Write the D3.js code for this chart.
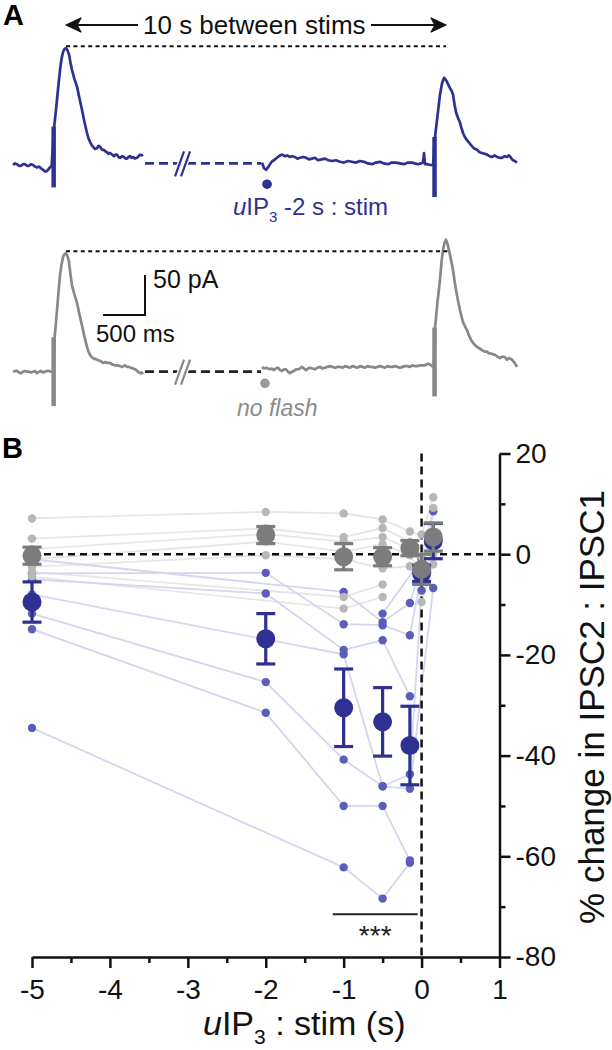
<!DOCTYPE html>
<html><head><meta charset="utf-8">
<script src="https://cdn.jsdelivr.net/npm/d3@7"></script>
<style>
html,body{margin:0;padding:0;background:#fff;}
svg{display:block;font-family:"Liberation Sans",Arial,Helvetica,sans-serif;}
</style></head><body>
<svg id="chart" width="612" height="1050"></svg>
<script>
// ================= DATA =================
// Panel A: example sweeps, [time (ms) within segment, current (pA) relative to baseline]
const blueSweep1 = [[0,0],[24,2],[48,1],[71,-1],[95,-1],[119,1],[143,1],[167,-1],[190,-1],[214,1],[238,0],[262,-2],[286,-3],[310,-2],[333,-4],[357,-6],[381,-8],[400,-8],[417,-6],[440,-3],[460,-1],[490,48],[512,69],[536,95],[560,119],[578,133],[595,141],[612,145],[631,146],[650,143],[667,138],[684,128],[702,119],[730,108],[762,98],[790,84],[821,69],[850,54],[881,40],[900,33],[917,29],[935,25],[952,23],[976,20],[1000,21],[1018,24],[1036,23],[1060,19],[1083,19],[1100,17],[1119,16],[1137,14],[1155,15],[1180,13],[1202,11],[1220,13],[1238,13],[1256,10],[1274,9],[1300,11],[1321,10],[1340,8],[1357,8],[1375,10],[1393,11],[1410,9],[1429,10],[1450,8],[1476,9],[1495,11],[1512,13],[1530,12],[1548,13]];
const blueSweep2 = [[0,3],[24,-4],[48,-6],[71,-3],[90,0],[107,3],[125,5],[143,6],[165,8],[190,10],[214,12],[238,13],[256,12],[274,11],[300,12],[333,10],[360,11],[393,10],[420,8],[452,9],[490,10],[524,9],[560,7],[595,8],[630,9],[667,6],[710,7],[750,8],[790,6],[833,5],[880,6],[929,4],[975,3],[1024,5],[1070,4],[1119,3],[1165,5],[1214,4],[1260,2],[1310,1],[1355,3],[1405,4],[1450,2],[1500,1],[1545,3],[1595,3],[1640,2],[1690,1],[1740,3],[1786,3],[1820,2],[1857,1],[1890,2],[1917,3],[1929,15],[1940,1],[1970,1],[2000,0],[2036,0],[2060,35],[2090,62],[2119,88],[2143,102],[2167,109],[2185,107],[2202,104],[2220,100],[2238,96],[2256,93],[2274,88],[2292,76],[2310,66],[2333,59],[2357,53],[2375,46],[2393,40],[2415,35],[2440,31],[2465,28],[2488,25],[2520,21],[2560,19],[2590,16],[2619,15],[2650,14],[2679,13],[2710,11],[2738,10],[2770,12],[2798,10],[2830,9],[2857,9],[2890,11],[2917,10],[2935,12],[2952,11],[2970,8],[2988,6],[3010,5],[3036,3]];
const graySweep1 = [[0,0],[24,1],[48,1],[71,-1],[95,-2],[119,0],[143,1],[167,0],[190,0],[214,-1],[238,0],[262,1],[286,-2],[310,0],[333,1],[357,-1],[381,0],[405,1],[429,1],[452,0],[480,0],[496,43],[524,77],[542,100],[560,121],[578,134],[595,143],[612,147],[631,148],[650,144],[667,137],[684,122],[702,108],[730,97],[762,86],[790,72],[821,58],[850,44],[881,31],[900,25],[917,21],[940,18],[964,16],[980,16],[1000,15],[1025,14],[1048,13],[1070,11],[1095,12],[1125,11],[1155,11],[1185,9],[1214,8],[1245,8],[1274,7],[1300,6],[1333,8],[1357,6],[1380,6],[1405,5],[1430,4],[1452,3],[1470,2],[1488,0],[1512,-2],[1530,-1],[1548,-3]];
const graySweep2 = [[0,6],[24,4],[48,5],[71,4],[95,3],[119,4],[143,2],[165,4],[190,5],[214,2],[238,1],[262,3],[286,3],[310,0],[333,-2],[357,0],[381,1],[405,3],[429,3],[452,4],[476,6],[500,4],[524,2],[548,4],[571,5],[600,4],[631,3],[660,5],[690,6],[720,4],[750,5],[780,6],[810,7],[840,6],[869,5],[900,6],[929,6],[960,5],[988,7],[1020,6],[1048,5],[1077,7],[1107,6],[1137,5],[1167,7],[1196,6],[1226,5],[1256,7],[1286,6],[1315,6],[1345,5],[1375,6],[1405,7],[1435,6],[1464,5],[1494,7],[1524,6],[1553,6],[1583,7],[1613,6],[1643,5],[1672,6],[1702,7],[1732,7],[1762,6],[1790,8],[1821,7],[1850,7],[1881,8],[1910,8],[1940,8],[1976,10],[2000,9],[2024,7],[2045,8],[2060,55],[2090,88],[2119,115],[2140,140],[2155,152],[2172,161],[2190,165],[2208,160],[2226,152],[2250,140],[2274,127],[2292,114],[2310,102],[2333,89],[2357,77],[2375,69],[2393,62],[2415,57],[2440,52],[2465,45],[2488,40],[2520,35],[2560,31],[2590,29],[2619,27],[2650,25],[2679,25],[2700,23],[2714,23],[2745,22],[2774,21],[2800,19],[2833,17],[2860,19],[2893,18],[2917,15],[2940,17],[2964,16],[2985,14],[3000,12],[3020,9],[3036,6]];
// stimulus artifacts: [segment, time (ms), top pA, bottom pA]
const blueArtifacts = [[1, 484, 48, -28], [2, 2054, 35, -40]];
const grayArtifacts = [[1, 484, 43, -43], [2, 2054, 55, -31]];
// flash markers: [time (ms) in segment 2, pA]
const blueFlash = [60, -24];
const grayFlash = [36, -14.5];
// gap (dashed) baseline level, pA
const blueGapLevel = 2;
const grayGapLevel = 0;
// scale bar
const scaleBarMs = 500;
const scaleBarPa = 50;

// Panel B: uIP3 : stim interval (s)
const trialX = [-5, -2, -1, -0.5, -0.15, 0, 0.15];
const blueMean = [-9.5, -16.8, -30.5, -33.3, -38.0, -3.8, 2.6];
const blueSem  = [4.0, 5.0, 7.7, 6.8, 7.8, 1.6, 3.5];
const grayMean = [-0.3, 3.8, -0.5, -0.5, 1.2, -3.0, 3.4];
const graySem  = [1.7, 1.7, 2.6, 1.8, 1.5, 3.0, 2.8];
// individual cells (null = not tested)
const blueCells = [
  [-34.5, null, -62.2, -68.4, -61.3, null, null],
  [-14.9, -31.5, -50.0, -50.0, -60.8, null, null],
  [-11.8, -25.4, -40.8, -46.1, -43.7, -7.2, null],
  [-8.0, null, -19.9, -46.1, -46.6, null, -6.7],
  [-5.0, -7.8, -19.0, -17.1, -28.2, null, null],
  [-3.8, -3.7, -13.9, -14.1, -16.1, -4.0, 8.5],
  [-1.0, null, -7.5, -13.5, -9.7, -2.0, 3.0],
  [null, null, null, -11.8, null, -1.0, 4.0]
];
const grayCells = [
  [7.1, 8.4, 8.1, 6.9, 4.5, 3.9, 11.3],
  [3.1, 5.1, 3.4, 5.2, 2.5, -0.5, 9.2],
  [1.0, 4.0, 2.5, 3.4, 1.0, -2.0, 3.0],
  [-1.0, 2.5, 0.5, 2.0, -0.2, -4.0, 0.0],
  [-2.5, -0.2, -1.0, -2.8, -2.4, -9.5, -2.0],
  [-3.5, null, -8.5, -6.0, null, null, null],
  [-4.5, null, -10.8, -8.5, null, null, null]
];
const xTicksMajor = [-5, -4, -3, -2, -1, 0, 1];
const xTicksMinor = [-4.5, -3.5, -2.5, -1.5, -0.5, 0.5];
const yTicksMajor = [20, 0, -20, -40, -60, -80];
const yTicksMinor = [10, -10, -30, -50, -70];
const sigRange = [-1.14, -0.05];
const sigLevel = -71.5;

// ================= STYLE =================
const BLUE = "#2e3192", BLUE_PT = "#5a5eb8", BLUE_LN = "#d4d5ee";
const GRAY = "#888888", GRAY_MEAN = "#7c7c7c", GRAY_PT = "#b7b7b7", GRAY_LN = "#e6e6e6";

const svg = d3.select("#chart");

// ================= PANEL A =================
const tx = d3.scaleLinear().domain([0, 500]).range([0, 42]);   // ms -> px
const ty = d3.scaleLinear().domain([0, 50]).range([0, -40]);   // pA -> px
const seg1X = 13, seg2X = 262;

svg.append("text").attr("x", 3).attr("y", 25).attr("font-size", 29).attr("font-weight", "bold").text("A");
svg.append("text").attr("x", 2).attr("y", 458).attr("font-size", 29).attr("font-weight", "bold").text("B");

function drawTrace(baseY, s1, s2, arts, flash, gapLevel, color, gapColor, dotColor) {
  const g = svg.append("g").attr("transform", `translate(0,${baseY})`);
  const line = d3.line().x(d => tx(d[0])).y(d => ty(d[1]));
  const g1 = g.append("g").attr("transform", `translate(${seg1X},0)`);
  const g2 = g.append("g").attr("transform", `translate(${seg2X},0)`);
  g1.append("path").attr("d", line(s1)).attr("fill", "none").attr("stroke", color).attr("stroke-width", 2.7).attr("stroke-linejoin", "round");
  g2.append("path").attr("d", line(s2)).attr("fill", "none").attr("stroke", color).attr("stroke-width", 2.7).attr("stroke-linejoin", "round");
  arts.forEach(a => {
    const gg = a[0] === 1 ? g1 : g2;
    gg.append("line").attr("x1", tx(a[1])).attr("x2", tx(a[1]))
      .attr("y1", ty(a[2])).attr("y2", ty(a[3])).attr("stroke", color).attr("stroke-width", 4.5);
  });
  // gap dashed line
  const gx1 = seg1X + tx(s1[s1.length - 1][0]) + 2, gx2 = seg2X - 1;
  g.append("line").attr("x1", gx1).attr("x2", gx2).attr("y1", ty(gapLevel)).attr("y2", ty(gapLevel))
    .attr("stroke", gapColor).attr("stroke-width", 2.8).attr("stroke-dasharray", "9,5");
  // break marks
  const bx = gx1 + 35, by = ty(gapLevel);
  [0, 6].forEach(o => {
    g.append("line").attr("x1", bx + o - 5).attr("y1", by + 13).attr("x2", bx + o + 4).attr("y2", by - 12)
      .attr("stroke", "#fff").attr("stroke-width", 5);
  });
  [0, 6].forEach(o => {
    g.append("line").attr("x1", bx + o - 5).attr("y1", by + 13).attr("x2", bx + o + 4).attr("y2", by - 12)
      .attr("stroke", color).attr("stroke-width", 2.2);
  });
  // flash marker
  g2.append("circle").attr("cx", tx(flash[0])).attr("cy", ty(flash[1])).attr("r", 4.8).attr("fill", dotColor);
  // peak dotted line
  const p1 = d3.greatest(s1, d => d[1]), p2 = d3.greatest(s2, d => d[1]);
  g.append("line").attr("x1", seg1X + tx(p1[0])).attr("x2", seg2X + tx(p2[0]) + 2)
    .attr("y1", ty(p1[1]) - 2).attr("y2", ty(p1[1]) - 2)
    .attr("stroke", "#111").attr("stroke-width", 2).attr("stroke-dasharray", "4,3.4");
  return {g, p1x: seg1X + tx(p1[0]), p2x: seg2X + tx(p2[0]) + 2};
}

const tA = drawTrace(165, blueSweep1, blueSweep2, blueArtifacts, blueFlash, blueGapLevel, BLUE, BLUE, BLUE);
const tB = drawTrace(371.7, graySweep1, graySweep2, grayArtifacts, grayFlash, grayGapLevel, GRAY, "#222", "#9a9a9a");

// "10 s between stims" arrows
const arrowY = 25;
svg.append("text").attr("x", 143).attr("y", 34).attr("font-size", 26).attr("fill", "#111").text("10 s between stims");
function arrow(xFrom, xTo) {
  const dir = Math.sign(xTo - xFrom);
  svg.append("line").attr("x1", xFrom).attr("x2", xTo - dir * 2).attr("y1", arrowY).attr("y2", arrowY)
    .attr("stroke", "#111").attr("stroke-width", 2);
  svg.append("path").attr("d", `M${xTo},${arrowY} L${xTo - dir * 15},${arrowY - 7} L${xTo - dir * 11},${arrowY} L${xTo - dir * 15},${arrowY + 7} Z`)
    .attr("fill", "#111").attr("stroke", "#111").attr("stroke-width", 1.2).attr("stroke-linejoin", "round");
}
arrow(138, tA.p1x);
arrow(371, tA.p2x);

// blue label
const lab = svg.append("text").attr("x", 233).attr("y", 215).attr("font-size", 24).attr("fill", BLUE);
lab.append("tspan").attr("font-style", "italic").text("u");
lab.append("tspan").text("IP");
lab.append("tspan").attr("font-size", 15).attr("dy", 7).text("3");
lab.append("tspan").attr("dy", -7).text(" -2 s : stim");

svg.append("text").attr("x", 237).attr("y", 416).attr("font-size", 23).attr("font-style", "italic")
  .attr("fill", "#8a8a8a").text("no flash");

// scale bar
const sbX = 145, sbY = 315;
svg.append("path").attr("d", `M${sbX + tx(-scaleBarMs)},${sbY} L${sbX},${sbY} L${sbX},${sbY + ty(scaleBarPa)}`)
  .attr("fill", "none").attr("stroke", "#111").attr("stroke-width", 2);
svg.append("text").attr("x", 153).attr("y", 288).attr("font-size", 25).attr("fill", "#111").text("50 pA");
svg.append("text").attr("x", 96).attr("y", 342).attr("font-size", 24).attr("fill", "#111").text("500 ms");

// ================= PANEL B =================
const x = d3.scaleLinear().domain([-5, 1]).range([32, 499.5]);
const y = d3.scaleLinear().domain([-80, 20]).range([957, 453.5]);

const B = svg.append("g");

// connecting lines
const cellLine = d3.line().x(d => x(d[0])).y(d => y(d[1]));
function cellPts(c) { return c.map((v, i) => [trialX[i], v]).filter(d => d[1] !== null); }
grayCells.forEach(c => B.append("path").attr("d", cellLine(cellPts(c))).attr("fill", "none").attr("stroke", GRAY_LN).attr("stroke-width", 1.8));
blueCells.forEach(c => B.append("path").attr("d", cellLine(cellPts(c))).attr("fill", "none").attr("stroke", BLUE_LN).attr("stroke-width", 1.8));

// reference dashed lines
B.append("line").attr("x1", x(-5)).attr("x2", x(1)).attr("y1", y(0)).attr("y2", y(0))
  .attr("stroke", "#111").attr("stroke-width", 2.5).attr("stroke-dasharray", "7,5");
B.append("line").attr("x1", x(0)).attr("x2", x(0)).attr("y1", y(20)).attr("y2", y(-80))
  .attr("stroke", "#111").attr("stroke-width", 2.5).attr("stroke-dasharray", "8,5");

// individual points
blueCells.forEach(c => cellPts(c).forEach(d => B.append("circle").attr("cx", x(d[0])).attr("cy", y(d[1])).attr("r", 4.2).attr("fill", BLUE_PT)));
grayCells.forEach(c => cellPts(c).forEach(d => B.append("circle").attr("cx", x(d[0])).attr("cy", y(d[1])).attr("r", 4.2).attr("fill", GRAY_PT)));

// means with error bars
function drawMeans(means, sems, color) {
  means.forEach((m, i) => {
    const cx = x(trialX[i]);
    const g = B.append("g").attr("stroke", color).attr("stroke-width", 3.2);
    g.append("line").attr("x1", cx).attr("x2", cx).attr("y1", y(m + sems[i])).attr("y2", y(m - sems[i]));
    g.append("line").attr("x1", cx - 9.5).attr("x2", cx + 9.5).attr("y1", y(m + sems[i])).attr("y2", y(m + sems[i]));
    g.append("line").attr("x1", cx - 9.5).attr("x2", cx + 9.5).attr("y1", y(m - sems[i])).attr("y2", y(m - sems[i]));
    B.append("circle").attr("cx", cx).attr("cy", y(m)).attr("r", 9.5).attr("fill", color);
  });
}
drawMeans(blueMean, blueSem, BLUE);
drawMeans(grayMean, graySem, GRAY_MEAN);

// significance bar
B.append("line").attr("x1", x(sigRange[0])).attr("x2", x(sigRange[1])).attr("y1", y(sigLevel)).attr("y2", y(sigLevel))
  .attr("stroke", "#222").attr("stroke-width", 2);
B.append("text").attr("x", x((sigRange[0] + sigRange[1]) / 2)).attr("y", y(sigLevel) + 31)
  .attr("text-anchor", "middle").attr("font-size", 28).attr("fill", "#222").text("***");

// axes
const fmt = d => String(d);
function styleAxis(g, fs) {
  g.selectAll("path.domain").attr("stroke", "#111").attr("stroke-width", 2.5);
  g.selectAll(".tick line").attr("stroke", "#111").attr("stroke-width", 2.5);
  g.selectAll(".tick text").attr("font-size", fs).attr("fill", "#111").attr("font-family", '"Liberation Sans",Arial,sans-serif');
}
const xa = B.append("g").attr("transform", `translate(0,${y(-80)})`)
  .call(d3.axisBottom(x).tickValues(xTicksMajor).tickFormat(fmt).tickSize(11).tickSizeOuter(0).tickPadding(11));
styleAxis(xa, 28);
const xm = B.append("g").attr("transform", `translate(0,${y(-80)})`)
  .call(d3.axisBottom(x).tickValues(xTicksMinor).tickFormat("").tickSize(6).tickSizeOuter(0));
styleAxis(xm, 28); xm.select("path.domain").remove();

const ya = B.append("g").attr("transform", `translate(${x(1)},0)`)
  .call(d3.axisRight(y).tickValues(yTicksMajor).tickFormat(fmt).tickSize(11).tickSizeOuter(0).tickPadding(5));
styleAxis(ya, 28);
const ym = B.append("g").attr("transform", `translate(${x(1)},0)`)
  .call(d3.axisRight(y).tickValues(yTicksMinor).tickFormat("").tickSize(6).tickSizeOuter(0));
styleAxis(ym, 28); ym.select("path.domain").remove();

// axis titles
const xt = B.append("text").attr("x", 203).attr("y", 1035).attr("font-size", 34).attr("fill", "#111");
xt.append("tspan").attr("font-style", "italic").text("u");
xt.append("tspan").text("IP");
xt.append("tspan").attr("font-size", 21).attr("dy", 9).text("3");
xt.append("tspan").attr("dy", -9).text(" : stim (s)");

B.append("text").attr("transform", "translate(604,707) rotate(-90)").attr("text-anchor", "middle")
  .attr("font-size", 35).attr("fill", "#111").text("% change in IPSC2 : IPSC1");
</script></body></html>
